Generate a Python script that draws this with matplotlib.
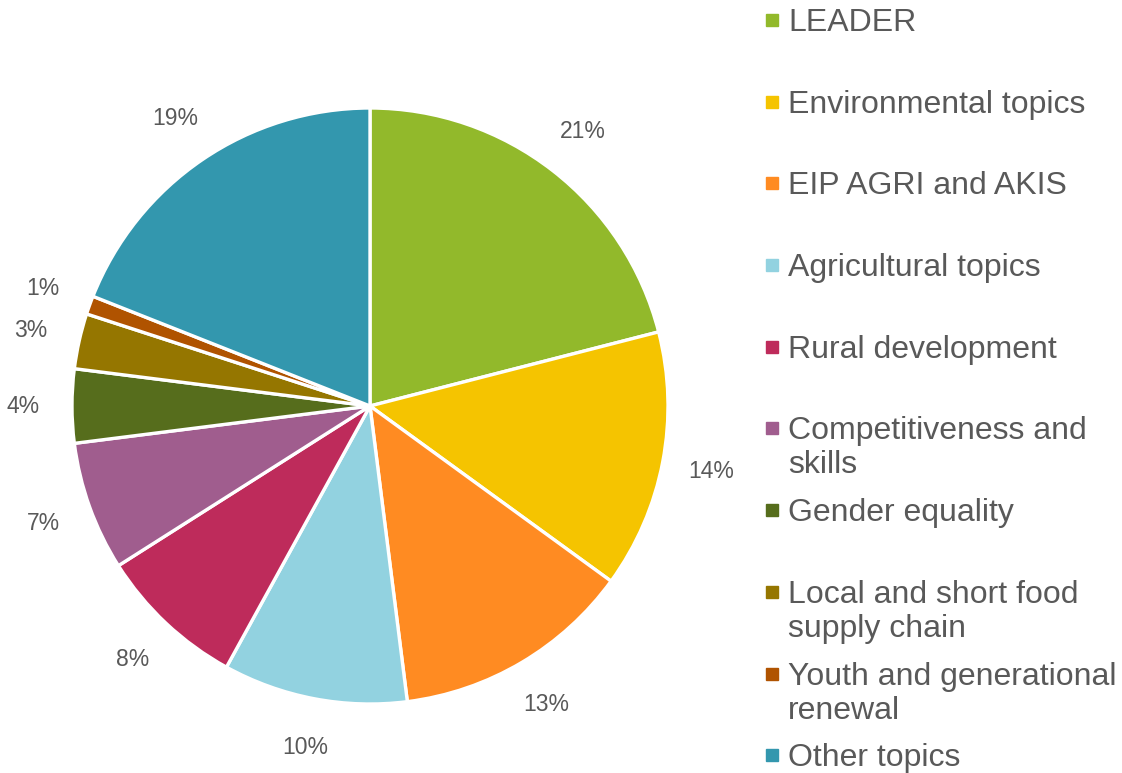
import matplotlib
matplotlib.use("Agg")
from matplotlib import pyplot as plt

# Topics and their shares (%)
topics = ["LEADER", "Environmental topics", "EIP AGRI and AKIS", "Agricultural topics",
          "Rural development", "Competitiveness and\nskills", "Gender equality",
          "Local and short food\nsupply chain", "Youth and generational\nrenewal", "Other topics"]
shares = [21, 14, 13, 10, 8, 7, 4, 3, 1, 19]
colours = ["#92B92B", "#F5C400", "#FF8B22", "#92D2E0", "#BE2B5B",
           "#A05D8E", "#566D1C", "#957600", "#B05300", "#3397AE"]

grey = "#595959"
plt.rcParams["font.family"] = ["Liberation Sans", "DejaVu Sans"]

fig = plt.figure(figsize=(11.22, 7.73), dpi=100)
ax = fig.add_axes([370 / 1122 - 298 / 1122, (773 - 406 - 298) / 773, 596 / 1122, 596 / 773])

wedges, texts = ax.pie(shares, colors=colours, startangle=90, counterclock=False,
                       labels=[f"{s}%" for s in shares], labeldistance=1.165,
                       wedgeprops=dict(edgecolor="white", linewidth=2.4),
                       textprops=dict(fontsize=16.5, color=grey))
for t in texts:
    t.set_ha("center")
    t.set_va("center")
ax.set_xlim(-1, 1)
ax.set_ylim(-1, 1)

# legend drawn by hand to match the even slot spacing
y0, step = 20, 81.7
for i, (name, col) in enumerate(zip(topics, colours)):
    y = 1 - (y0 + i * step) / 773
    fig.patches.append(plt.Rectangle((766 / 1122, y - 6 / 773), 12 / 1122, 12 / 773,
                                     transform=fig.transFigure, color=col))
    fig.text(788 / 1122, y + 12 / 773, name, fontsize=23, color=grey,
             va="top", ha="left", linespacing=1.17)

fig.savefig("out.png", dpi=100)
